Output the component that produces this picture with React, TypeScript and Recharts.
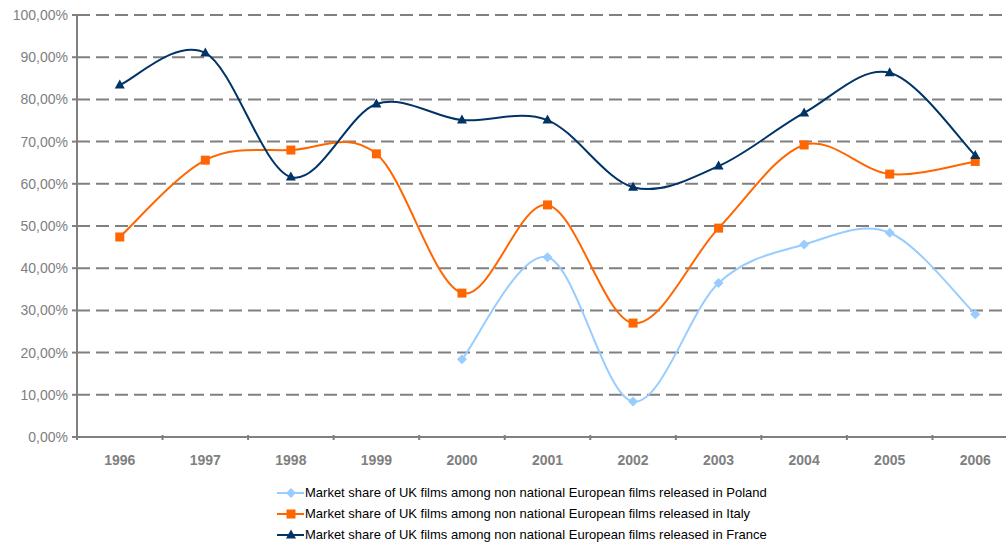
import { LineChart, Line, XAxis, YAxis, CartesianGrid } from "recharts";

const YEARS = ["1996", "1997", "1998", "1999", "2000", "2001", "2002", "2003", "2004", "2005", "2006"];
const POLAND = [null, null, null, null, 18.4, 42.6, 8.4, 36.5, 45.6, 48.4, 29.1];
const ITALY = [47.4, 65.6, 68.0, 67.1, 34.1, 55.0, 27.0, 49.5, 69.2, 62.3, 65.3];
const FRANCE = [83.4, 91.0, 61.6, 78.9, 75.1, 75.1, 59.2, 64.2, 76.8, 86.3, 66.7];
const Y_TICKS = [0, 10, 20, 30, 40, 50, 60, 70, 80, 90, 100];

const LABEL_POLAND = "Market share of UK films among non national European films released in Poland";
const LABEL_ITALY = "Market share of UK films among non national European films released in Italy";
const LABEL_FRANCE = "Market share of UK films among non national European films released in France";

const C_POLAND = "#99CCFF";
const C_ITALY = "#FF6600";
const C_FRANCE = "#003366";
const GREY = "#808080";
const FONT = "'Liberation Sans', Arial, sans-serif";

const CHART_W = 1010;
const CHART_H = 536;
const Y_W = 69;
const BAND = (CHART_W - Y_W) / YEARS.length;

const data = YEARS.map((year, i) => ({
  year,
  poland: POLAND[i],
  italy: ITALY[i],
  france: FRANCE[i],
}));

// Excel-like smoothing (Catmull-Rom through the points)
const smoothCurve = (context: any) => {
  let pts: number[][] = [];
  return {
    areaStart() {},
    areaEnd() {},
    lineStart() {
      pts = [];
    },
    point(x: number, y: number) {
      pts.push([+x, +y]);
    },
    lineEnd() {
      const n = pts.length;
      if (!n) return;
      context.moveTo(pts[0][0], pts[0][1]);
      for (let i = 0; i < n - 1; i++) {
        const p0 = pts[i - 1] || pts[i];
        const p1 = pts[i];
        const p2 = pts[i + 1];
        const p3 = pts[i + 2] || pts[i + 1];
        context.bezierCurveTo(
          p1[0] + (p2[0] - p0[0]) / 6,
          p1[1] + (p2[1] - p0[1]) / 6,
          p2[0] - (p3[0] - p1[0]) / 6,
          p2[1] - (p3[1] - p1[1]) / 6,
          p2[0],
          p2[1]
        );
      }
    },
  };
};

function Marker({ kind, cx, cy, color }: { kind: string; cx: number; cy: number; color: string }) {
  if (kind === "diamond") {
    return <path d={`M${cx},${cy - 5}L${cx + 5},${cy}L${cx},${cy + 5}L${cx - 5},${cy}Z`} fill={color} />;
  }
  if (kind === "square") {
    return <rect x={cx - 4.5} y={cy - 4.5} width={9} height={9} fill={color} />;
  }
  return <path d={`M${cx},${cy - 5.5}L${cx + 5},${cy + 3.5}L${cx - 5},${cy + 3.5}Z`} fill={color} />;
}

const makeDot = (kind: string, color: string) => (props: any) => {
  const { cx, cy, value, key, index } = props;
  if (value == null || cx == null || cy == null) return <g key={key ?? index} />;
  return (
    <g key={key ?? index}>
      <Marker kind={kind} cx={cx} cy={cy} color={color} />
    </g>
  );
};

const XTick = (props: any) => {
  const { x, y, payload } = props;
  const bx = x - BAND / 2;
  return (
    <g>
      <line x1={bx} y1={y - 2} x2={bx} y2={y + 3} stroke={GREY} strokeWidth={2} />
      <text x={x} y={y + 28} textAnchor="middle" fill={GREY} fontSize={14} fontWeight="bold" fontFamily={FONT}>
        {payload.value}
      </text>
    </g>
  );
};

const fmtPct = (v: number) => `${v.toFixed(2).replace(".", ",")}%`;

function LegendRow({ kind, color, label }: { kind: string; color: string; label: string }) {
  return (
    <div style={{ display: "flex", alignItems: "center", height: 21 }}>
      <svg width={28} height={14} style={{ flex: "none" }}>
        <line x1={0} y1={7} x2={27} y2={7} stroke={color} strokeWidth={2} />
        <Marker kind={kind} cx={14} cy={7} color={color} />
      </svg>
      <span style={{ fontSize: 13, color: "#000", whiteSpace: "nowrap" }}>{label}</span>
    </div>
  );
}

export default function App() {
  // fixed frame so the over-wide plot is clipped at the window edge without scrollbars
  return (
    <div
      style={{
        position: "fixed",
        left: 0,
        top: 0,
        width: 1006,
        height: 544,
        overflow: "hidden",
        background: "#fff",
        fontFamily: FONT,
      }}
    >
      <div style={{ position: "absolute", left: 8, top: 8, width: CHART_W, height: CHART_H }}>
        <LineChart width={CHART_W} height={CHART_H} data={data} margin={{ top: 7, right: 0, bottom: 67, left: 0 }}>
          <CartesianGrid vertical={false} stroke={GREY} strokeWidth={2} strokeDasharray="13 6" />
          <XAxis
            dataKey="year"
            height={40}
            padding={{ left: BAND / 2, right: BAND / 2 }}
            tickLine={false}
            tickSize={0}
            tickMargin={0}
            axisLine={{ stroke: GREY, strokeWidth: 2 }}
            tick={<XTick />}
            interval={0}
          />
          <YAxis
            width={Y_W}
            domain={[0, 100]}
            ticks={Y_TICKS}
            tickFormatter={fmtPct}
            tickSize={5}
            tickMargin={4}
            axisLine={{ stroke: GREY, strokeWidth: 2 }}
            tickLine={{ stroke: GREY, strokeWidth: 2 }}
            tick={{ fill: GREY, fontSize: 14, fontFamily: FONT }}
            interval={0}
          />
          <Line
            dataKey="poland"
            type={smoothCurve as any}
            stroke={C_POLAND}
            strokeWidth={2}
            dot={makeDot("diamond", C_POLAND)}
            activeDot={false}
            isAnimationActive={false}
          />
          <Line
            dataKey="italy"
            type={smoothCurve as any}
            stroke={C_ITALY}
            strokeWidth={2}
            dot={makeDot("square", C_ITALY)}
            activeDot={false}
            isAnimationActive={false}
          />
          <Line
            dataKey="france"
            type={smoothCurve as any}
            stroke={C_FRANCE}
            strokeWidth={2}
            dot={makeDot("triangle", C_FRANCE)}
            activeDot={false}
            isAnimationActive={false}
          />
        </LineChart>
        <div style={{ position: "absolute", left: 269, top: 474 }}>
          <LegendRow kind="diamond" color={C_POLAND} label={LABEL_POLAND} />
          <LegendRow kind="square" color={C_ITALY} label={LABEL_ITALY} />
          <LegendRow kind="triangle" color={C_FRANCE} label={LABEL_FRANCE} />
        </div>
      </div>
    </div>
  );
}
